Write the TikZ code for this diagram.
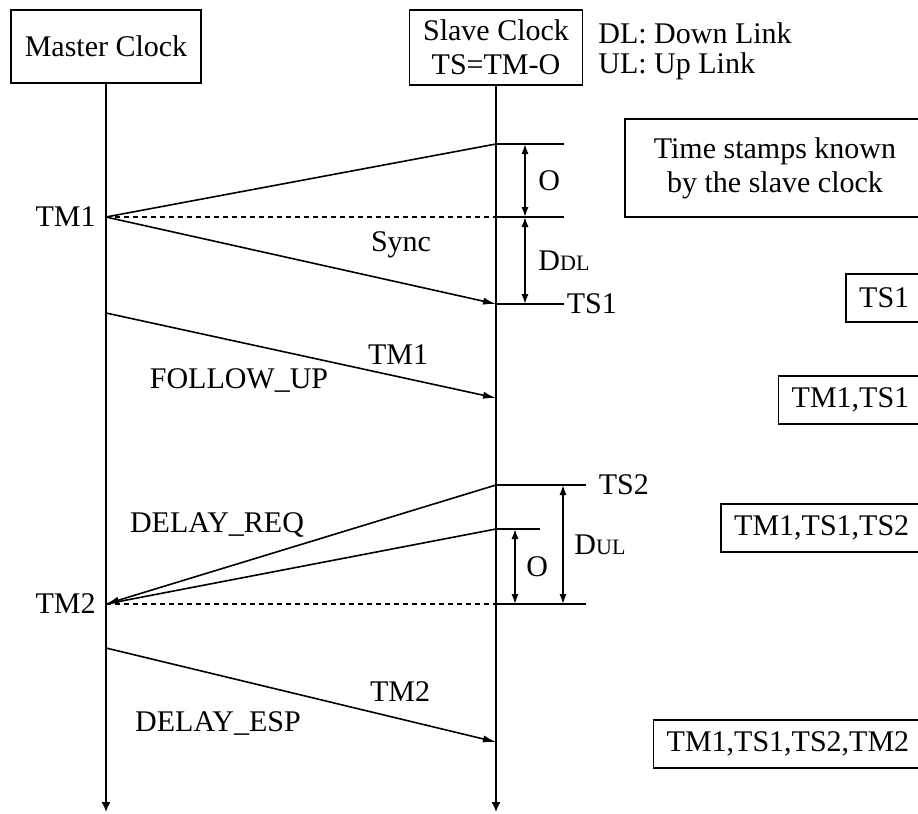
\documentclass[tikz,border=0pt]{standalone}
\usepackage{fontspec}
\setmainfont{Liberation Serif}
\usetikzlibrary{positioning, arrows.meta}
\tikzset{
    clock box/.style = {draw, line width=0.8pt, inner sep=3pt, align=center},
    stamp box/.style = {draw, line width=0.8pt, anchor=east, inner xsep=6.5pt, minimum height=24pt},
    lifeline/.style = {draw, line width=0.8pt, -{Latex[length=5pt, width=4.5pt]}},
    msg/.style = {draw, line width=0.8pt, -{Latex[length=6.5pt, width=3.6pt]}},
    span/.style = {draw, line width=0.8pt, {Latex[length=5pt, width=3.6pt]}-{Latex[length=5pt, width=3.6pt]}},
    tick/.style = {draw, line width=0.8pt},
    ref line/.style = {draw, line width=0.8pt, dash pattern=on 2.5pt off 2pt},
}
\newcommand{\lnkdelay}[1]{D{\fontsize{11}{12}\selectfont #1}}

\begin{document}
\begin{tikzpicture}[x=0.5pt, y=-0.5pt, font=\fontsize{15}{17}\selectfont]
        \useasboundingbox (0,0) rectangle (918,814);

        \node[clock box, minimum width=95pt, minimum height=36.5pt] (master) at (106,46.5) {Master Clock};
        \node[clock box, minimum width=86.5pt, minimum height=37.5pt] (slave) at (496,47.5) {Slave Clock\\TS=TM-O};
        \node[anchor=west, inner sep=0pt] (dl) at (598,33) {DL: Down Link};
        \node[anchor=west, inner sep=0pt] (ul) at (598,66) {UL: Up Link};

        \node[clock box, minimum width=150pt, minimum height=49pt] (known) at (775,168) {Time stamps known\\by the slave clock};

        \coordinate (m end) at (106,812);
        \coordinate (s end) at (496,812);
        \draw[lifeline] (master) -- (m end);
        \draw[lifeline] (slave) -- (s end);

        \coordinate (tm1) at (106,217);
        \coordinate (tm1 fu) at (106,313);
        \coordinate (tm2) at (106,604);
        \coordinate (tm2 resp) at (106,648);

        \coordinate (s off1) at (496,144);
        \coordinate (s tm1) at (496,217);
        \coordinate (ts1) at (496,304);
        \coordinate (s fu) at (496,398);
        \coordinate (ts2) at (496,485);
        \coordinate (s off2) at (496,529);
        \coordinate (s tm2) at (496,604);
        \coordinate (s resp) at (496,742);

        \node[left=5pt, inner sep=0pt] (tm1 lbl) at (tm1) {TM1};
        \node[left=5pt, inner sep=0pt] (tm2 lbl) at (tm2) {TM2};

        \draw[tick] (tm1) -- (s off1);
        \draw[ref line] (tm1) -- (s tm1);
        \draw[msg] (tm1) -- (ts1);
        \node (sync) at (401,245) {Sync};

        \draw[tick] (s off1) -- ++(68,0);
        \draw[tick] (s tm1) -- ++(68,0);
        \draw[tick] (ts1) -- ++(68,0) node[right=1pt, inner sep=0pt] (ts1 lbl) {TS1};
        \draw[span] ([xshift=14.5pt]s off1) -- ([xshift=14.5pt]s tm1) node[midway, right=3pt] {O};
        \draw[span] ([xshift=14.5pt]s tm1) -- ([xshift=14.5pt]ts1) node[midway, right=3pt] {\lnkdelay{DL}};

        \draw[msg] (tm1 fu) -- (s fu);
        \node (fu ts) at (398,355) {TM1};
        \node (fu lbl) at (239,380) {FOLLOW\_UP};

        \draw[msg] (ts2) -- (tm2);
        \draw[tick] (s off2) -- (tm2);
        \draw[ref line] (tm2) -- (s tm2);
        \node (req lbl) at (217,525) {DELAY\_REQ};

        \draw[tick] (ts2) -- ++(90,0) node[right=6pt, inner sep=0pt] (ts2 lbl) {TS2};
        \draw[tick] (s off2) -- ++(44,0);
        \draw[tick] (s tm2) -- ++(90,0);
        \draw[span] ([xshift=9.5pt]s off2) -- ([xshift=9.5pt]s tm2) node[midway, right=2pt] {O};
        \draw[span] ([xshift=33.5pt]ts2) -- ([xshift=33.5pt]s tm2) node[midway, right=2pt] {\lnkdelay{UL}};

        \draw[msg] (tm2 resp) -- (s resp);
        \node (resp ts) at (400,692) {TM2};
        \node (resp lbl) at (218,723) {DELAY\_ESP};

        \node[stamp box] (known1) at (923,298) {TS1};
        \node[stamp box] (known2) at (923,400) {TM1,TS1};
        \node[stamp box] (known3) at (923,528) {TM1,TS1,TS2};
        \node[stamp box] (known4) at (923,744) {TM1,TS1,TS2,TM2};
    \end{tikzpicture}
\end{document}
